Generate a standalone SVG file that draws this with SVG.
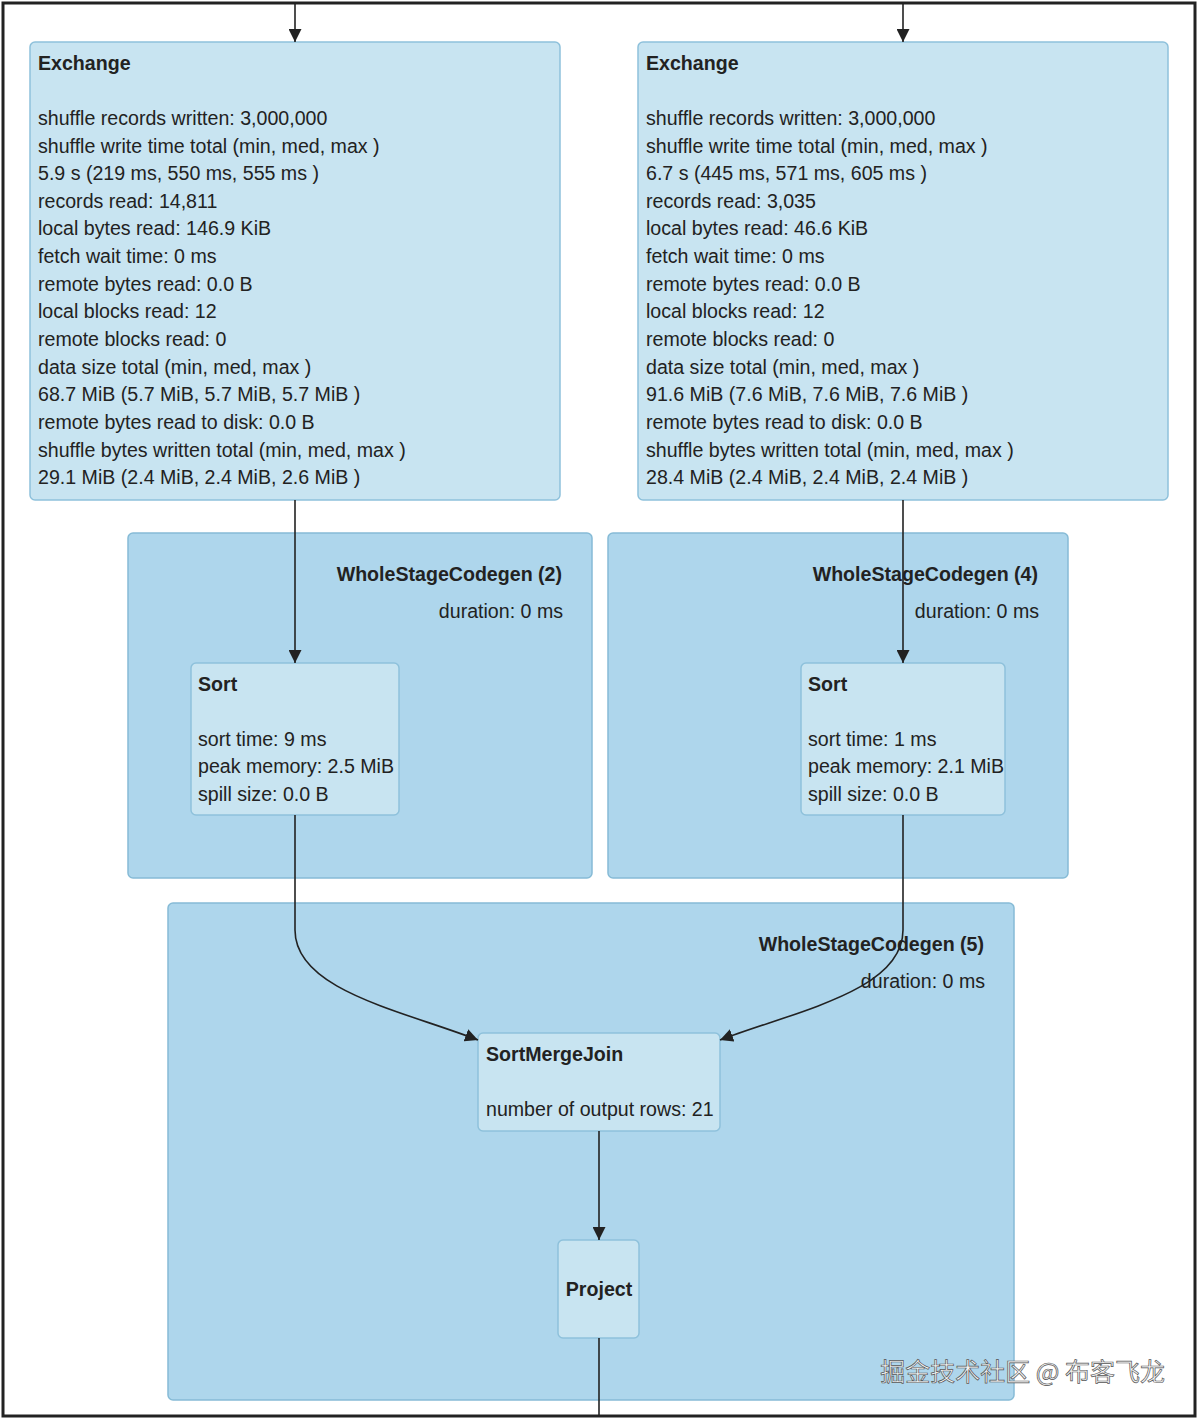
<svg xmlns="http://www.w3.org/2000/svg" width="1200" height="1421" viewBox="0 0 1200 1421">
<defs>
<marker id="ah" viewBox="0 0 10 10" refX="10" refY="5" markerWidth="13" markerHeight="13" markerUnits="userSpaceOnUse" orient="auto"><path d="M0,0L10,5L0,10z" fill="#222"/></marker>
<style>
text{font-family:"Liberation Sans",Arial,sans-serif;font-size:19.6px;fill:#222}
.b{font-weight:bold}
.r{text-anchor:end}
.node{fill:#c8e4f1;stroke:#8ec1db;stroke-width:1.5}
.cl{fill:#aed6ec;stroke:#86bbd6;stroke-width:1.5}
.e{fill:none;stroke:#222;stroke-width:1.6;marker-end:url(#ah)}
.e2{fill:none;stroke:#222;stroke-width:1.6}
</style>
</defs>
<rect x="0" y="0" width="1200" height="1421" fill="#fff"/>
<rect x="3" y="3" width="1192" height="1413" fill="none" stroke="#222" stroke-width="3"/>
<g id="wsc2"><rect class="cl" x="128" y="533" width="464" height="345" rx="5"/><text class="b r" x="562" y="581">WholeStageCodegen (2)</text><text class="r" x="563" y="618">duration: 0 ms</text></g>
<g id="wsc4"><rect class="cl" x="608" y="533" width="460" height="345" rx="5"/><text class="b r" x="1038" y="581">WholeStageCodegen (4)</text><text class="r" x="1039" y="618">duration: 0 ms</text></g>
<g id="wsc5"><rect class="cl" x="168" y="903" width="846" height="497" rx="5"/><text class="b r" x="984" y="951">WholeStageCodegen (5)</text><text class="r" x="985" y="988">duration: 0 ms</text></g>
<g id="exchangeL"><rect class="node" x="30" y="42" width="530" height="458" rx="5"/>
<text class="b" x="38" y="70">Exchange</text>
<text x="38" y="125">shuffle records written: 3,000,000</text>
<text x="38" y="153">shuffle write time total (min, med, max )</text>
<text x="38" y="180">5.9 s (219 ms, 550 ms, 555 ms )</text>
<text x="38" y="208">records read: 14,811</text>
<text x="38" y="235">local bytes read: 146.9 KiB</text>
<text x="38" y="263">fetch wait time: 0 ms</text>
<text x="38" y="291">remote bytes read: 0.0 B</text>
<text x="38" y="318">local blocks read: 12</text>
<text x="38" y="346">remote blocks read: 0</text>
<text x="38" y="374">data size total (min, med, max )</text>
<text x="38" y="401">68.7 MiB (5.7 MiB, 5.7 MiB, 5.7 MiB )</text>
<text x="38" y="429">remote bytes read to disk: 0.0 B</text>
<text x="38" y="457">shuffle bytes written total (min, med, max )</text>
<text x="38" y="484">29.1 MiB (2.4 MiB, 2.4 MiB, 2.6 MiB )</text>
</g>
<g id="exchangeR"><rect class="node" x="638" y="42" width="530" height="458" rx="5"/>
<text class="b" x="646" y="70">Exchange</text>
<text x="646" y="125">shuffle records written: 3,000,000</text>
<text x="646" y="153">shuffle write time total (min, med, max )</text>
<text x="646" y="180">6.7 s (445 ms, 571 ms, 605 ms )</text>
<text x="646" y="208">records read: 3,035</text>
<text x="646" y="235">local bytes read: 46.6 KiB</text>
<text x="646" y="263">fetch wait time: 0 ms</text>
<text x="646" y="291">remote bytes read: 0.0 B</text>
<text x="646" y="318">local blocks read: 12</text>
<text x="646" y="346">remote blocks read: 0</text>
<text x="646" y="374">data size total (min, med, max )</text>
<text x="646" y="401">91.6 MiB (7.6 MiB, 7.6 MiB, 7.6 MiB )</text>
<text x="646" y="429">remote bytes read to disk: 0.0 B</text>
<text x="646" y="457">shuffle bytes written total (min, med, max )</text>
<text x="646" y="484">28.4 MiB (2.4 MiB, 2.4 MiB, 2.4 MiB )</text>
</g>
<g id="sortL"><rect class="node" x="191" y="663" width="208" height="152" rx="5"/>
<text class="b" x="198" y="691">Sort</text>
<text x="198" y="746">sort time: 9 ms</text>
<text x="198" y="773">peak memory: 2.5 MiB</text>
<text x="198" y="801">spill size: 0.0 B</text></g>
<g id="sortR"><rect class="node" x="801" y="663" width="204" height="152" rx="5"/>
<text class="b" x="808" y="691">Sort</text>
<text x="808" y="746">sort time: 1 ms</text>
<text x="808" y="773">peak memory: 2.1 MiB</text>
<text x="808" y="801">spill size: 0.0 B</text></g>
<g id="smj"><rect class="node" x="478" y="1033" width="242" height="98" rx="5"/>
<text class="b" x="486" y="1061">SortMergeJoin</text>
<text x="486" y="1116">number of output rows: 21</text></g>
<g id="project"><rect class="node" x="558" y="1240" width="81" height="98" rx="5"/>
<text class="b" x="599" y="1296" text-anchor="middle">Project</text></g>
<g id="edges">
<path class="e" d="M295,4V42"/>
<path class="e" d="M903,4V42"/>
<path class="e" d="M295,500V663"/>
<path class="e" d="M903,500V663"/>
<path class="e" d="M295,815V930C295,990 400,1010 478,1040"/>
<path class="e" d="M903,815V930C903,990 800,1010 720,1040"/>
<path class="e" d="M599,1131V1240"/>
<path class="e2" d="M599,1338V1416"/>
</g>
<text x="1165" y="1381" class="r" style="font-family:'Noto Sans CJK SC',sans-serif;font-size:25px;fill:#f4f4f4;stroke:#555;stroke-width:0.7">掘金技术社区 @ 布客飞龙</text>
</svg>
